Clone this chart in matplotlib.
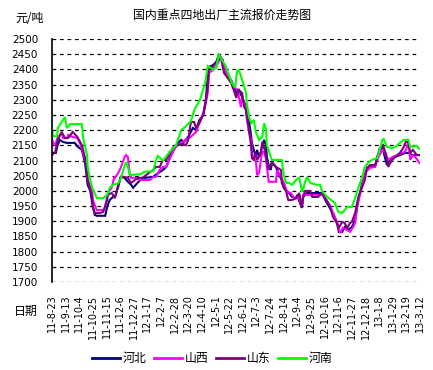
import matplotlib
matplotlib.use("Agg")
import matplotlib.pyplot as plt
import datetime as dt

base_date = dt.date(2011, 8, 23)
tick_days = list(range(0, 568, 21))
tick_labels = [f"{(base_date + dt.timedelta(days=d)).year % 100}-{(base_date + dt.timedelta(days=d)).month}-{(base_date + dt.timedelta(days=d)).day}" for d in tick_days]

yticks = list(range(1700, 2501, 50))
series_names = ["河北", "山西", "山东", "河南"]

hebei_days = [0,6,8,12,17,23,35,40,46,51,55,59,62,66,69,82,85,89,94,97,102,106,112,117,122,125,129,136,143,156,160,166,171,176,182,186,191,199,203,210,217,222,227,233,237,240,242,248,253,257,263,265,271,276,279,284,288,293,299,300,304,307,308,311,314,316,319,322,324,327,330,331,334,337,339,345,350,354,357,361,365,370,376,378,382,385,387,393,416,421,428,433,439,442,447,451,456,462,467,472,478,485,490,498,502,509,510,516,521,529,536,544,549,555,564,566]
hebei_vals = [2125,2125,2145,2168,2161,2158,2158,2145,2135,2092,2020,2000,1960,1921,1918,1918,1947,1970,1980,1980,2013,2046,2043,2030,2020,2010,2020,2036,2043,2046,2053,2062,2069,2079,2112,2128,2150,2168,2161,2178,2207,2200,2233,2250,2300,2375,2408,2414,2424,2447,2431,2398,2375,2365,2349,2322,2332,2309,2276,2250,2223,2178,2158,2135,2112,2135,2112,2128,2151,2168,2145,2112,2085,2069,2092,2079,2052,2036,2010,2000,1993,1980,1976,1987,1960,1944,1980,1993,1993,1970,1944,1927,1894,1865,1865,1881,1871,1881,1904,1970,2026,2069,2079,2085,2118,2145,2135,2085,2102,2112,2118,2125,2125,2118,2118,2118]

shanxi_days = [0,2,5,9,15,17,23,25,31,39,43,48,54,55,62,63,69,79,82,86,92,96,97,102,106,112,114,117,120,122,129,136,145,151,156,160,166,171,176,182,186,191,199,206,214,222,230,234,240,242,248,253,260,265,271,276,280,287,288,291,293,296,299,300,304,307,308,311,314,316,319,322,324,327,330,331,334,345,347,353,357,362,368,373,378,381,385,387,416,421,428,433,439,444,448,455,459,464,467,470,475,479,482,490,498,502,509,513,518,525,533,539,544,549,552,556,561,566]
shanxi_vals = [2174,2158,2150,2178,2190,2174,2174,2184,2178,2174,2158,2125,2079,2036,2003,1970,1937,1937,1947,1993,2010,2046,2043,2059,2076,2112,2118,2112,2052,2043,2043,2036,2036,2036,2046,2046,2069,2079,2079,2108,2128,2145,2158,2168,2178,2194,2240,2260,2322,2388,2398,2408,2441,2414,2375,2365,2342,2332,2309,2276,2309,2289,2266,2240,2191,2168,2128,2102,2102,2052,2059,2102,2128,2128,2102,2079,2030,2030,2069,2043,2030,1997,1993,1976,1980,1976,1947,1987,1987,1976,1954,1927,1898,1861,1878,1871,1865,1881,1894,1947,1993,2026,2059,2076,2079,2108,2135,2125,2102,2112,2118,2125,2128,2158,2102,2118,2108,2092]

shandong_days = [0,5,9,15,20,25,32,39,46,51,55,62,63,66,74,79,85,86,92,97,102,106,112,117,122,128,133,140,145,151,156,160,166,171,176,182,186,191,202,206,210,214,219,222,227,233,237,240,242,248,256,260,265,271,276,280,284,287,288,293,296,299,300,304,307,308,311,314,316,319,322,324,327,330,331,334,339,345,347,353,354,361,364,370,376,381,385,387,390,398,401,410,416,421,428,433,439,442,447,451,455,459,462,467,472,478,482,485,490,498,501,505,510,515,518,524,529,536,541,545,549,552,556,562,566]
shandong_vals = [2118,2128,2168,2194,2174,2174,2194,2178,2151,2108,2036,1980,1944,1927,1927,1931,1970,1987,1993,1976,2020,2046,2046,2043,2026,2036,2043,2043,2052,2062,2069,2079,2079,2102,2102,2125,2141,2150,2155,2150,2168,2227,2227,2207,2223,2250,2293,2342,2404,2408,2431,2441,2388,2371,2355,2332,2306,2332,2332,2322,2276,2266,2250,2191,2145,2108,2102,2125,2102,2112,2128,2161,2141,2112,2095,2069,2095,2079,2076,2069,2026,1997,1970,1970,1976,1993,1947,1980,2000,2000,1980,1980,1993,1976,1950,1914,1894,1878,1898,1894,1878,1894,1898,1927,1980,2013,2036,2076,2085,2085,2108,2141,2151,2118,2079,2102,2112,2125,2141,2161,2161,2125,2135,2118,2118]

henan_days = [0,2,8,9,15,20,23,28,46,48,54,55,59,62,66,69,79,85,89,94,102,106,110,114,117,120,136,143,156,160,163,171,182,191,199,205,214,220,228,236,240,248,253,257,262,267,273,277,282,285,288,293,299,300,304,307,311,314,319,324,327,330,331,337,339,354,357,361,365,370,376,381,384,385,387,390,393,398,408,413,416,424,436,441,447,451,455,462,467,472,478,482,487,493,501,505,509,511,516,524,529,536,542,549,552,562,566]
henan_vals = [2200,2180,2180,2207,2227,2243,2207,2220,2220,2174,2118,2079,2036,2010,1993,1976,1976,1987,2010,2020,2025,2040,2070,2095,2080,2052,2055,2063,2065,2100,2115,2100,2130,2150,2200,2210,2230,2270,2300,2355,2411,2400,2405,2450,2430,2414,2380,2355,2340,2392,2398,2365,2322,2290,2240,2223,2233,2194,2168,2178,2223,2200,2151,2112,2102,2102,2052,2026,2026,2020,2036,2043,2013,1997,2005,2030,2045,2026,2020,2020,2000,1980,1960,1931,1927,1937,1947,1947,1976,2010,2046,2080,2092,2102,2108,2135,2168,2171,2145,2141,2145,2158,2168,2168,2145,2148,2138]

colors = ["#000080", "#FF00FF", "#800080", "#00FF00"]
all_days = [hebei_days, shanxi_days, shandong_days, henan_days]
all_vals = [hebei_vals, shanxi_vals, shandong_vals, henan_vals]

cjk = ["Noto Sans CJK SC", "DejaVu Sans"]

fig = plt.figure(figsize=(4.33, 3.70), dpi=100)
ax = fig.add_axes([0.120, 0.2378, 0.850, 0.6568])

for d, v, c, n in zip(all_days, all_vals, colors, series_names):
    ax.plot(d, v, color=c, lw=1.5, label=n, solid_joinstyle="miter")

ax.set_xlim(0, 567)
ax.set_ylim(1700, 2500)
ax.set_yticks(yticks)
ax.set_yticklabels([str(t) for t in yticks], fontsize=7.5)
ax.set_xticks(tick_days)
ax.set_xticklabels(tick_labels, rotation=90, fontsize=7)
ax.tick_params(axis="both", length=0)
ax.tick_params(axis="y", pad=10)
ax.tick_params(axis="x", pad=9)
for t in ax.get_xticklabels():
    t.set_verticalalignment("top")

for y in yticks:
    ax.axhline(y, color="black", lw=0.9, ls=(0, (3, 3)), zorder=0)

for s in ["top", "right", "bottom"]:
    ax.spines[s].set_visible(False)
ax.spines["left"].set_linewidth(1.2)

fig.text(0.513, 0.958, "国内重点四地出厂主流报价走势图", ha="center", va="center", fontsize=8.6, family=cjk)
fig.text(0.035, 0.951, "元/吨", ha="left", va="center", fontsize=8.6, family=cjk)
fig.text(0.032, 0.159, "日期", ha="left", va="center", fontsize=8.6, family=cjk)

leg = fig.legend(loc="center", bbox_to_anchor=(0.49, 0.030), ncol=4, frameon=False,
                 prop={"family": cjk, "size": 8.6}, handlelength=2.4, handletextpad=0.2,
                 columnspacing=0.6)
for line in leg.get_lines():
    line.set_linewidth(2.0)

fig.savefig("out.png", dpi=100)
